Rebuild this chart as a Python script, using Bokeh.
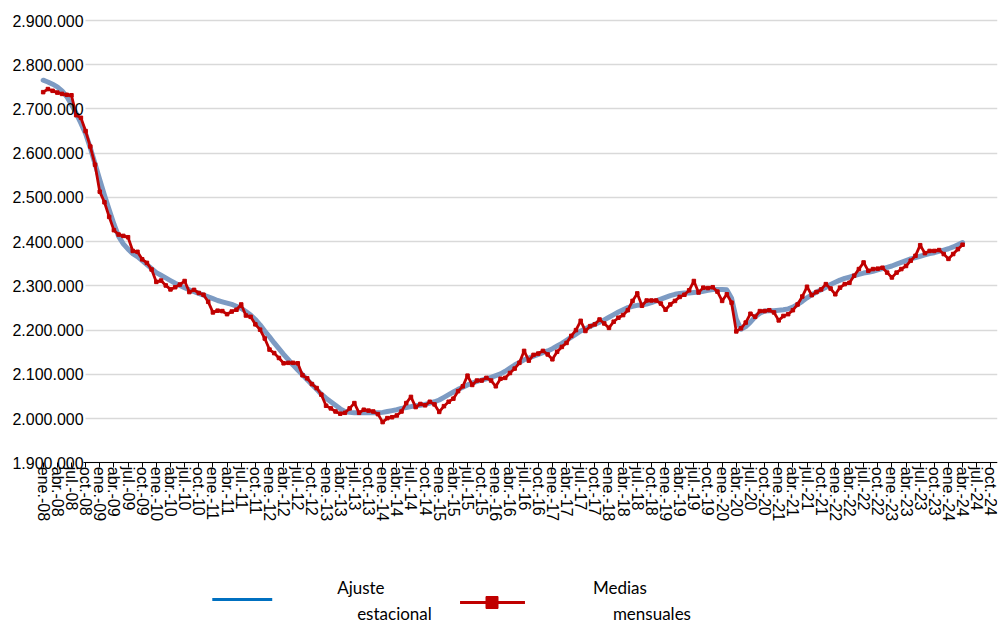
from bokeh.plotting import figure
from bokeh.models import Range1d, FixedTicker, LinearAxis, Grid, Label
from bokeh.layouts import column
from bokeh.embed import file_html
from bokeh.resources import INLINE

# Monthly values (thousands), Jan 2008 .. Apr 2024
medias_mensuales = [
    2738, 2745, 2741, 2737, 2734, 2732, 2731, 2686, 2680, 2650, 2615, 2574,
    2513, 2489, 2456, 2426, 2416, 2413, 2410, 2379, 2377, 2360, 2352, 2337,
    2309, 2312, 2301, 2292, 2297, 2303, 2311, 2286, 2291, 2284, 2280, 2264,
    2240, 2244, 2243, 2236, 2242, 2246, 2258, 2233, 2230, 2213, 2201, 2181,
    2156, 2148, 2137, 2125, 2126, 2126, 2125, 2098, 2091, 2078, 2069, 2054,
    2029, 2023, 2016, 2011, 2013, 2023, 2035, 2013, 2020, 2018, 2016, 2010,
    1992, 2001, 2003, 2007, 2016, 2035, 2049, 2026, 2033, 2030, 2038, 2032,
    2015, 2028, 2038, 2045, 2062, 2073, 2097, 2076, 2086, 2086, 2092, 2086,
    2073, 2090, 2092, 2103, 2113, 2126, 2153, 2131, 2144, 2147, 2153, 2145,
    2134, 2151, 2162, 2171, 2187, 2200, 2221, 2198, 2209, 2213, 2224, 2215,
    2205, 2219, 2228, 2234, 2245, 2266, 2283, 2255, 2267, 2267, 2267, 2260,
    2246, 2258, 2266, 2275, 2280, 2290, 2311, 2285, 2296, 2295, 2297, 2287,
    2266, 2281, 2262, 2197, 2204, 2217, 2237, 2230, 2243, 2243, 2245, 2240,
    2222, 2232, 2236, 2245, 2258, 2276, 2298, 2279, 2286, 2292, 2304, 2294,
    2281, 2296, 2304, 2307, 2323, 2338, 2353, 2334, 2338, 2339, 2341, 2330,
    2319, 2330, 2338, 2345, 2357, 2368, 2392, 2374, 2379, 2379, 2381, 2372,
    2361, 2372, 2383, 2393,
]

ajuste_estacional = [
    2765, 2761, 2756, 2750, 2741, 2728, 2710, 2690, 2668, 2644, 2612, 2576,
    2540, 2505, 2472, 2440, 2412, 2395, 2383, 2373, 2366, 2357, 2348, 2339,
    2330, 2324, 2318, 2312, 2306, 2301, 2296, 2291, 2287, 2283, 2279, 2275,
    2271, 2267, 2264, 2261, 2258, 2254, 2249, 2242, 2234, 2224, 2212, 2198,
    2185, 2171, 2158, 2145, 2133, 2121, 2110, 2099, 2088, 2077, 2066, 2055,
    2046, 2038, 2030, 2022, 2016, 2014, 2013, 2013, 2013, 2013, 2013, 2013,
    2014, 2016, 2018, 2020, 2023, 2025, 2027, 2029, 2030, 2032, 2035, 2038,
    2042, 2048, 2054, 2060, 2066, 2071, 2076, 2080, 2084, 2087, 2090, 2093,
    2097, 2101, 2107, 2114, 2121, 2127, 2133, 2137, 2141, 2145, 2149, 2153,
    2158, 2164, 2170, 2177, 2184, 2191, 2198, 2203, 2208, 2213, 2218, 2223,
    2229, 2235, 2241, 2246, 2251, 2254, 2256, 2257, 2259, 2262, 2266, 2270,
    2274, 2278, 2281, 2283, 2284, 2284, 2285, 2286, 2288, 2290, 2292, 2292,
    2292, 2291, 2272, 2225, 2202, 2208, 2218, 2230, 2238, 2243, 2244, 2244,
    2245, 2246, 2248, 2252, 2258, 2265, 2273, 2280, 2286, 2291, 2297, 2303,
    2308, 2313, 2317, 2320, 2323, 2326, 2329, 2331, 2333, 2336, 2339, 2342,
    2345, 2349, 2353, 2357, 2361, 2364, 2367, 2370, 2373, 2375, 2378, 2381,
    2384, 2388, 2393, 2398,
]

mes = list(range(len(medias_mensuales)))

quarter_names = ["ene.", "abr.", "jul.", "oct."]
years = list(range(8, 25))
x_tick_labels = [f"{q}-{y:02d}" for y in years for q in quarter_names]
x_tick_pos = [3 * k for k in range(len(x_tick_labels))]

y_ticks = [1900, 2000, 2100, 2200, 2300, 2400, 2500, 2600, 2700, 2800, 2900]
y_tick_labels = ["1.900.000", "2.000.000", "2.100.000", "2.200.000", "2.300.000",
                 "2.400.000", "2.500.000", "2.600.000", "2.700.000", "2.800.000",
                 "2.900.000"]

legend_labels = [("Ajuste", "estacional"), ("Medias", "mensuales")]

BLUE = "#7D9BC3"
RED = "#C00000"
LEG_BLUE = "#0070C0"
FONT = "Liberation Sans"

W = 998
H_MAIN = 568
X_START, X_END = -9.05, 202.4
Y_MIN, Y_MAX = 1900, 2900
PX_PER_UNIT = 0.4423          # vertical scale, pixels per thousand
TOP_PAD, FRAME_H = 20, 540     # 2.900.000 sits 20px below the frame top
Y_START = Y_MAX + TOP_PAD / PX_PER_UNIT - FRAME_H / PX_PER_UNIT
Y_END = Y_MAX + TOP_PAD / PX_PER_UNIT
CROSS = 9  # vertical axis crosses at category oct.-08

p = figure(width=W, height=H_MAIN, output_backend="svg", toolbar_location=None,
           x_range=Range1d(X_START, X_END), y_range=Range1d(Y_START, Y_END),
           x_axis_type=None, y_axis_type=None,
           min_border_left=0, min_border_right=1, min_border_top=0,
           min_border_bottom=H_MAIN - FRAME_H)
p.outline_line_color = None
p.background_fill_color = "white"

grid = Grid(dimension=1, ticker=FixedTicker(ticks=y_ticks), grid_line_color="#D9D9D9",
            grid_line_width=1.3, cross_bounds=(CROSS, X_END))
p.add_layout(grid)

xaxis_line = LinearAxis(fixed_location=Y_MIN, bounds=(CROSS - 0.4, X_END),
                        ticker=FixedTicker(ticks=x_tick_pos),
                        major_label_text_color=None, major_label_text_font_size="1px",
                        major_tick_out=5, major_tick_in=0, major_tick_line_color="#000000",
                        minor_tick_line_color=None, axis_line_color="#000000",
                        axis_line_width=1.2)
p.add_layout(xaxis_line, "below")

xaxis_lab = LinearAxis(fixed_location=Y_MIN, ticker=FixedTicker(ticks=x_tick_pos),
                       major_label_overrides=dict(zip(x_tick_pos, x_tick_labels)),
                       major_label_orientation="vertical",
                       axis_line_color=None, major_tick_line_color=None,
                       minor_tick_line_color=None, major_label_standoff=4,
                       major_tick_out=0, major_tick_in=0,
                       major_label_text_font=FONT, major_label_text_font_size="16px",
                       major_label_text_color="#000000")
p.add_layout(xaxis_lab, "below")

yaxis = LinearAxis(fixed_location=CROSS, ticker=FixedTicker(ticks=y_ticks),
                   major_label_overrides=dict(zip(y_ticks, y_tick_labels)),
                   axis_line_color=None, major_tick_line_color=None,
                   minor_tick_line_color=None, major_label_standoff=2,
                   major_tick_out=0, major_tick_in=0,
                   major_label_text_font=FONT, major_label_text_font_size="16px",
                   major_label_text_color="#000000")
p.add_layout(yaxis, "left")

p.line(mes, ajuste_estacional, line_color=BLUE, line_width=5,
       line_join="round", line_cap="round")
p.line(mes, medias_mensuales, line_color=RED, line_width=2.8, line_join="round")
p.scatter(mes, medias_mensuales, marker="square", size=3.5, color=RED)

# Legend panel
LH = 624 - H_MAIN
lg = figure(width=W, height=LH, output_backend="svg", toolbar_location=None,
            x_range=Range1d(0, W), y_range=Range1d(LH, 0),
            x_axis_type=None, y_axis_type=None, min_border=0)
lg.outline_line_color = None
lg.grid.visible = False

lg.line([212, 272], [31, 31], line_color=LEG_BLUE, line_width=3)
lg.line([460, 525], [34, 34], line_color=RED, line_width=3)
lg.scatter([492], [34], marker="square", size=12, color=RED)

LFONT = "Lato"
for (l1, l2), (x1, x2) in zip(legend_labels, [(337, 357), (593, 613)]):
    lg.add_layout(Label(x=x1, y=19, text=l1, text_font=LFONT, text_font_size="17px",
                        text_baseline="middle", text_color="#000000"))
    lg.add_layout(Label(x=x2, y=45, text=l2, text_font=LFONT, text_font_size="17px",
                        text_baseline="middle", text_color="#000000"))

layout = column(p, lg, spacing=0)
open("out.html", "w").write(file_html(layout, INLINE))
